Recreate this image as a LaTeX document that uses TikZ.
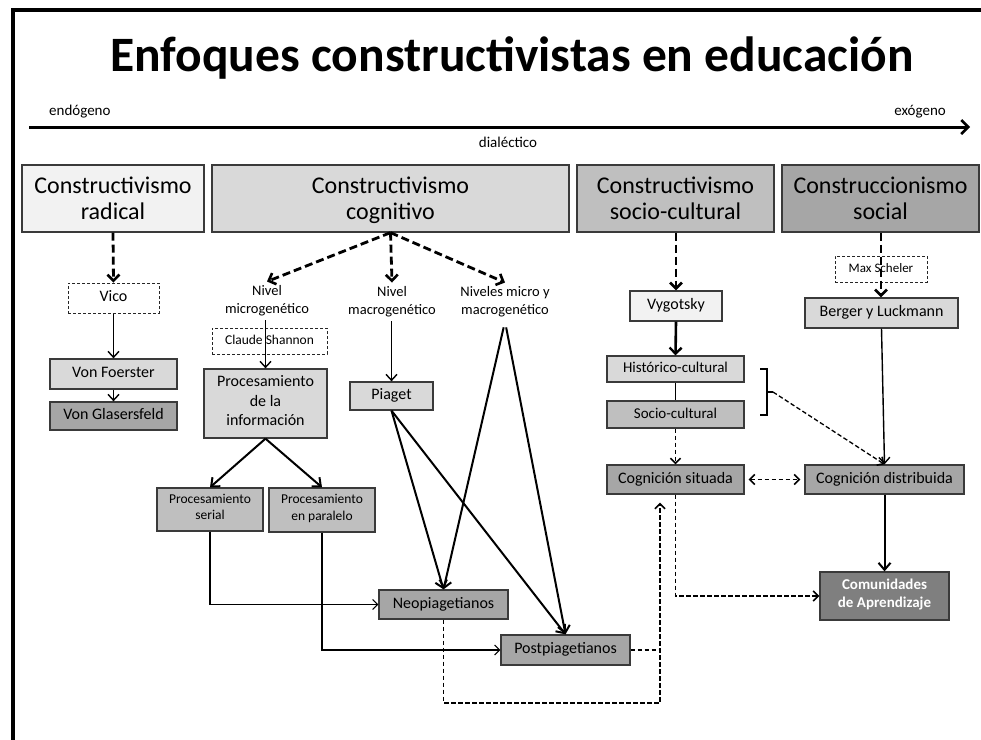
\documentclass[tikz,border=0pt]{standalone}
\usepackage{fontspec}
\setmainfont{Carlito}
\usetikzlibrary{arrows.meta,calc}
\definecolor{gA}{HTML}{F2F2F2}
\definecolor{gB}{HTML}{D9D9D9}
\definecolor{gC}{HTML}{BFBFBF}
\definecolor{gD}{HTML}{A6A6A6}
\definecolor{gE}{HTML}{7F7F7F}
\definecolor{edge}{HTML}{3A3A3A}
\newcommand{\fs}[2]{\fontsize{#1}{#2}\selectfont}
\newcommand{\hdrtext}[2]{\raisebox{-3pt}[\height][\depth]{\begin{tabular}{@{}c@{}}#1\\#2\end{tabular}}}
\tikzset{
  box/.style={draw=edge, line width=1.3pt, align=center, inner sep=0pt, execute at begin node=\strut},
  dbox/.style={draw=black!85, line width=1pt, dash pattern=on 3pt off 2pt, fill=white, align=center, inner sep=0pt, execute at begin node=\strut},
  hdr/.style={draw=edge, line width=1.3pt, inner sep=0pt, minimum height=67pt, font=\fs{24}{26}},
  txt/.style={align=center, inner sep=4pt, font=\fs{14.5}{18}},
  bigdash/.style={line width=2.8pt, dash pattern=on 8pt off 4pt, -{Straight Barb[length=6pt,width=12pt,line width=2.6pt]}},
  thin/.style={line width=1.4pt, -{Straight Barb[length=6pt,width=11pt,line width=1.4pt]}},
  mid/.style={line width=2pt, -{Straight Barb[length=7pt,width=12pt,line width=2pt]}},
  hair/.style={line width=1.1pt, -{Straight Barb[length=5pt,width=10pt,line width=1.1pt]}},
  dsh/.style={line width=1.6pt, dash pattern=on 4.5pt off 2.5pt},
  dsharr/.style={dsh, -{Straight Barb[length=5pt,width=10pt,line width=1.6pt]}},
}
\begin{document}
\begin{tikzpicture}[x=1pt,y=-1pt]
\useasboundingbox (0,0) rectangle (981,739);
\fill[white] (0,0) rectangle (981,739);
% frame
\draw[line width=4pt] (13,741) -- (13,10) -- (983,10);

% title and axis
\node[anchor=base, inner sep=0pt, font=\fs{49.5}{54}\bfseries] (title) at (512,71) {Enfoques constructivistas en educación};
\coordinate (axL) at (29,127);
\coordinate (axR) at (970,127);
\draw[line width=3pt, -{Straight Barb[length=7pt,width=14pt,line width=2.5pt]}] (axL) -- (axR);
\node[anchor=base west, inner sep=0pt, font=\fs{15}{17}] (endo) at (49,115) {endógeno};
\node[anchor=base east, inner sep=0pt, font=\fs{15}{17}] (exo) at (946,115) {exógeno};
\node[anchor=base, inner sep=0pt, font=\fs{15}{17}] (dial) at (508,147) {dialéctico};

% header boxes
\node[hdr, fill=gA, minimum width=182pt] (h1) at (113,198.5) {\hdrtext{Constructivismo}{radical}};
\node[hdr, fill=gB, minimum width=357pt] (h2) at (390.5,198.5) {\hdrtext{Constructivismo}{cognitivo}};
\node[hdr, fill=gC, minimum width=197pt] (h3) at (675.5,198.5) {\hdrtext{Constructivismo}{socio-cultural}};
\node[hdr, fill=gD, minimum width=197pt] (h4) at (880.5,198.5) {\hdrtext{Construccionismo}{social}};

% column 1
\node[dbox, minimum width=91pt, minimum height=30pt, font=\fs{16}{19}] (vico) at (113.5,298) {Vico};
\node[box, fill=gB, minimum width=127pt, minimum height=30pt, font=\fs{16}{19}] (vonf) at (113.5,374) {Von Foerster};
\node[box, fill=gD, minimum width=127pt, minimum height=28pt, font=\fs{16}{19}] (vong) at (113.5,416) {Von Glasersfeld};
\draw[bigdash] (h1.south) -- (vico.north);
\draw[thin] (vico.south) -- (vonf.north);
\draw[thin] (vonf.south) -- (vong.north);

% column 2
\node[txt] (nmi) at (267,301) {Nivel\\microgenético};
\node[txt] (nma) at (392,302) {Nivel\\macrogenético};
\node[txt] (nmm) at (505,302) {Niveles micro y\\macrogenético};
\draw[bigdash] (h2.south) -- (nmi.north);
\draw[bigdash] (h2.south) -- (nma.north);
\draw[bigdash] (h2.south) -- (nmm.north);

\node[dbox, minimum width=115pt, minimum height=26pt, font=\fs{13.5}{16}] (shan) at (269.5,341) {Claude Shannon};
\node[box, fill=gB, minimum width=123pt, minimum height=69pt, font=\fs{16}{19.5}] (pinf) at (265.5,403.5) {Procesamiento\\de la\\\strut información};
\draw[thin] (nmi.south -| pinf.north) -- (pinf.north);

\node[box, fill=gB, minimum width=83pt, minimum height=28pt, font=\fs{16}{19}] (piag) at (391.5,396) {Piaget};
\draw[thin] (nma.south -| piag.north) -- (piag.north);

\node[box, fill=gC, minimum width=106pt, minimum height=43pt, font=\fs{13.5}{16.5}] (pser) at (210,509.5) {Procesamiento\\\strut serial};
\node[box, fill=gC, minimum width=106pt, minimum height=44pt, font=\fs{13.5}{16.5}] (ppar) at (322,510) {Procesamiento\\\strut en paralelo};
\draw[mid] (pinf.south) -- (pser.north);
\draw[mid] (pinf.south) -- (ppar.north);

\node[box, fill=gD, minimum width=129pt, minimum height=29pt, font=\fs{16}{19}] (neo) at (443.5,604.5) {Neopiagetianos};
\node[box, fill=gD, minimum width=129pt, minimum height=30pt, font=\fs{16}{19}] (post) at (565.5,650) {Postpiagetianos};

\draw[mid] (piag.south) -- (neo.north);
\draw[mid] (piag.south) -- (post.north);
\draw[mid, shorten <=6pt] (nmm.south) -- (neo.north);
\draw[mid, shorten <=6pt] (nmm.south) -- (post.north);

\draw[hair] (pser.south) |- (neo.west);
\draw[hair] (ppar.south) |- (post.west);

% column 3
\node[box, fill=gA, minimum width=92pt, minimum height=30pt, font=\fs{16}{19}] (vyg) at (676,306) {Vygotsky};
\node[box, fill=gB, minimum width=137pt, minimum height=26pt, font=\fs{15}{18}] (hist) at (675.5,369) {Histórico-cultural};
\node[box, fill=gC, minimum width=137pt, minimum height=27pt, font=\fs{15}{18}] (soc) at (675.5,414.5) {Socio-cultural};
\node[box, fill=gD, minimum width=137pt, minimum height=29pt, font=\fs{16}{19}] (csit) at (675.5,479.5) {Cognición situada};
\draw[bigdash] (h3.south -| vyg.north) -- (vyg.north);
\draw[line width=2.6pt, -{Straight Barb[length=6pt,width=12pt,line width=2.4pt]}] (vyg.south) -- (hist.north);
\draw[line width=1.4pt] (hist.south) -- (soc.north);
\draw[dsharr, line width=1.3pt] (soc.south) -- (csit.north);

% column 4
\node[dbox, minimum width=92pt, minimum height=26pt, font=\fs{13}{15}] (maxs) at (881,269) {Max Scheler};
\node[box, fill=gB, minimum width=153pt, minimum height=30pt, font=\fs{16}{19}] (berg) at (881.5,313) {Berger y Luckmann};
\node[box, fill=gD, minimum width=159pt, minimum height=29pt, font=\fs{16}{19}] (cdis) at (884.5,479.5) {Cognición distribuida};
\node[box, fill=gE, minimum width=129pt, minimum height=48pt, font=\fs{15}{18}\bfseries, text=white] (comu) at (884.5,596) {Comunidades\\\strut de Aprendizaje};
\draw[bigdash] (h4.south -| maxs.north) -- (berg.north -| maxs.north);
\draw[thin] (berg.south) -- (cdis.north);
\draw[mid] (cdis.south) -- (comu.north);

% bracket and links
\draw[line width=1.5pt] (760,369) -- (767,369) -- (767,415) -- (760,415);
\coordinate (br) at (773,392);
\draw[line width=1.5pt] (767,392) -- (br);
\draw[dsharr, line width=1.3pt] (br) -- (cdis.north);
\draw[dsh, shorten <=4pt, shorten >=4pt, {Straight Barb[length=5pt,width=10pt,line width=1.6pt]}-{Straight Barb[length=5pt,width=10pt,line width=1.6pt]}] (csit.east) -- (cdis.west);
\draw[dsharr] (csit.south) |- (comu.west);

\coordinate (nb) at (660,703);
\draw[dsharr, shorten >=8pt] (neo.south) |- (nb) -- (nb |- csit.south);
\draw[dsh] (post.east) -- (post.east -| nb);
\end{tikzpicture}
\end{document}
